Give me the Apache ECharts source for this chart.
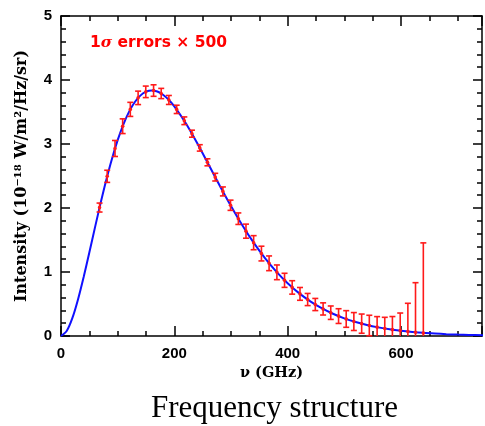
<!DOCTYPE html>
<html><head><meta charset="utf-8">
<script src="https://cdn.jsdelivr.net/npm/echarts@6/dist/echarts.min.js"></script>
<style>html,body{margin:0;padding:0;background:#fff}#c{width:485px;height:426px}</style>
</head><body><div id="c"></div>
<script>
// FIRAS data points: frequency (GHz), intensity (1e-18 W/m^2/Hz/sr), 1-sigma error x 500
const freqGHz = [68.05, 81.54, 95.33, 108.82, 122.31, 136.10, 149.60, 163.39, 176.88, 190.37, 204.16, 217.65, 231.14, 244.93, 258.42, 272.21, 285.70, 299.19, 312.98, 326.47, 339.96, 353.75, 367.24, 381.03, 394.52, 408.01, 421.80, 435.30, 448.79, 462.58, 476.07, 489.86, 503.35, 516.84, 530.63, 544.12, 557.91, 571.40, 584.89, 598.68, 612.17, 625.66, 639.45];
const intensity = [2.007, 2.495, 2.930, 3.278, 3.541, 3.721, 3.815, 3.835, 3.789, 3.688, 3.541, 3.363, 3.161, 2.939, 2.714, 2.482, 2.259, 2.043, 1.833, 1.638, 1.458, 1.288, 1.136, 0.995, 0.870, 0.759, 0.658, 0.570, 0.492, 0.423, 0.364, 0.311, 0.266, 0.226, 0.193, 0.164, 0.138, 0.117, 0.099, 0.084, 0.071, 0.058, 0.045];
const errorX500 = [0.070, 0.095, 0.125, 0.115, 0.110, 0.105, 0.090, 0.090, 0.080, 0.070, 0.065, 0.060, 0.055, 0.050, 0.055, 0.060, 0.070, 0.080, 0.090, 0.110, 0.110, 0.115, 0.115, 0.115, 0.110, 0.105, 0.100, 0.095, 0.095, 0.095, 0.105, 0.115, 0.130, 0.140, 0.150, 0.160, 0.165, 0.175, 0.205, 0.275, 0.440, 0.775, 1.410];
// Blackbody curve
const curveFreq = [0, 10, 20, 30, 40, 50, 60, 70, 80, 90, 100, 110, 120, 130, 140, 150, 160, 170, 180, 190, 200, 220, 240, 260, 280, 300, 320, 340, 360, 380, 400, 420, 440, 460, 480, 500, 520, 540, 560, 580, 600, 620, 640, 660, 680, 700, 720, 745];
const curveVal = [0, 0.077, 0.279, 0.572, 0.923, 1.305, 1.697, 2.081, 2.442, 2.771, 3.060, 3.304, 3.502, 3.652, 3.756, 3.817, 3.837, 3.820, 3.770, 3.692, 3.589, 3.329, 3.020, 2.688, 2.353, 2.031, 1.730, 1.458, 1.216, 1.005, 0.824, 0.670, 0.542, 0.435, 0.348, 0.276, 0.219, 0.172, 0.135, 0.105, 0.082, 0.064, 0.049, 0.038, 0.029, 0.022, 0.017, 0.012];
const xTicks = [0, 200, 400, 600];
const yTicks = [0, 1, 2, 3, 4, 5];

const chart = echarts.init(document.getElementById('c'), null, {renderer: 'canvas'});
const AX = '#000';
const X_MAX = 743;
function axisLine() { return {show: true, onZero: false, lineStyle: {color: AX, width: 1.5}}; }
function xAx(pos, labels) {
  const a = {
    type: 'value', min: 0, max: X_MAX, interval: 200, position: pos,
    axisLine: axisLine(), splitLine: {show: false}, minorSplitLine: {show: false},
    axisTick: {show: true, inside: true, length: 10, lineStyle: {color: AX, width: 1.5}},
    minorTick: {show: true, splitNumber: 4, length: 5, lineStyle: {color: AX, width: 1.5}},
    axisLabel: {show: labels, margin: 10, fontSize: 15, fontWeight: 'bold', color: '#000', fontFamily: 'Liberation Sans',
      formatter: v => xTicks.indexOf(v) >= 0 ? String(v) : ''}
  };
  if (labels) {
    a.name = 'ν (GHz)'; a.nameLocation = 'middle'; a.nameGap = 29;
    a.nameTextStyle = {fontSize: 14.5, fontWeight: 'bold', color: '#000', fontFamily: 'DejaVu Serif'};
  }
  return a;
}
function yAx(pos, labels) {
  const a = {
    type: 'value', min: 0, max: 5, interval: 1, position: pos,
    axisLine: axisLine(), splitLine: {show: false}, minorSplitLine: {show: false},
    axisTick: {show: true, inside: true, length: 9, lineStyle: {color: AX, width: 1.5}},
    minorTick: {show: true, splitNumber: 5, length: 5, lineStyle: {color: AX, width: 1.5}},
    axisLabel: {show: labels, margin: 9, fontSize: 15, fontWeight: 'bold', color: '#000', fontFamily: 'Liberation Sans',
      formatter: v => yTicks.indexOf(v) >= 0 ? String(v) : ''}
  };
  if (labels) {
    a.name = 'Intensity (10⁻¹⁸ W/m²/Hz/sr)'; a.nameLocation = 'middle'; a.nameGap = 31; a.nameRotate = 90;
    a.nameTextStyle = {fontSize: 16, fontWeight: 'bold', color: '#000', fontFamily: 'DejaVu Serif'};
  }
  return a;
}
const option = {
  animation: false,
  backgroundColor: '#fff',
  grid: {left: 61, top: 16, width: 424, height: 320, containLabel: false},
  xAxis: [xAx('bottom', true), xAx('top', false)],
  yAxis: [yAx('left', true), yAx('right', false)],
  graphic: [
    {type: 'text', left: 90, top: 35, z: 100,
      style: {text: '{a|1}{s|σ}{a| errors × 500}', fill: '#ff0000',
        rich: {a: {fontSize: 15.5, fontWeight: 'bold', fill: '#ff0000', fontFamily: 'DejaVu Sans'},
               s: {fontSize: 15.5, fontWeight: 'bold', fontStyle: 'italic', fill: '#ff0000', fontFamily: 'DejaVu Serif'}}}},
    {type: 'text', left: 151, top: 393, z: 100,
      style: {text: 'Frequency structure', fill: '#000', fontSize: 31, fontFamily: 'Liberation Serif'}}
  ],
  series: [
    {
      type: 'line', xAxisIndex: 0, yAxisIndex: 0,
      data: curveFreq.map((f, i) => [f, curveVal[i]]),
      showSymbol: false, smooth: 0.3, z: 2,
      lineStyle: {color: '#1010ff', width: 2}
    },
    {
      type: 'custom', xAxisIndex: 0, yAxisIndex: 0, z: 3,
      data: freqGHz.map((f, i) => [f, intensity[i], errorX500[i]]),
      renderItem: function (params, api) {
        const x = api.value(0), y = api.value(1), e = api.value(2);
        const lo = Math.max(0, y - e), hi = y + e;
        const pHi = api.coord([x, hi]);
        const pLo = api.coord([x, lo]);
        const pC = api.coord([x, y]);
        const cw = 3;
        const st = {stroke: '#ff1a1a', lineWidth: 1.6};
        const children = [
          {type: 'line', shape: {x1: pHi[0], y1: pHi[1], x2: pLo[0], y2: pLo[1]}, style: st},
          {type: 'line', shape: {x1: pHi[0] - cw, y1: pHi[1], x2: pHi[0] + cw, y2: pHi[1]}, style: st},
          {type: 'circle', shape: {cx: pC[0], cy: pC[1], r: 1.8}, style: {fill: '#ff1a1a'}}
        ];
        if (y - e > 0) {
          children.push({type: 'line', shape: {x1: pLo[0] - cw, y1: pLo[1], x2: pLo[0] + cw, y2: pLo[1]}, style: st});
        }
        return {type: 'group', children: children};
      }
    }
  ]
};
chart.setOption(option);
</script>
</body></html>
